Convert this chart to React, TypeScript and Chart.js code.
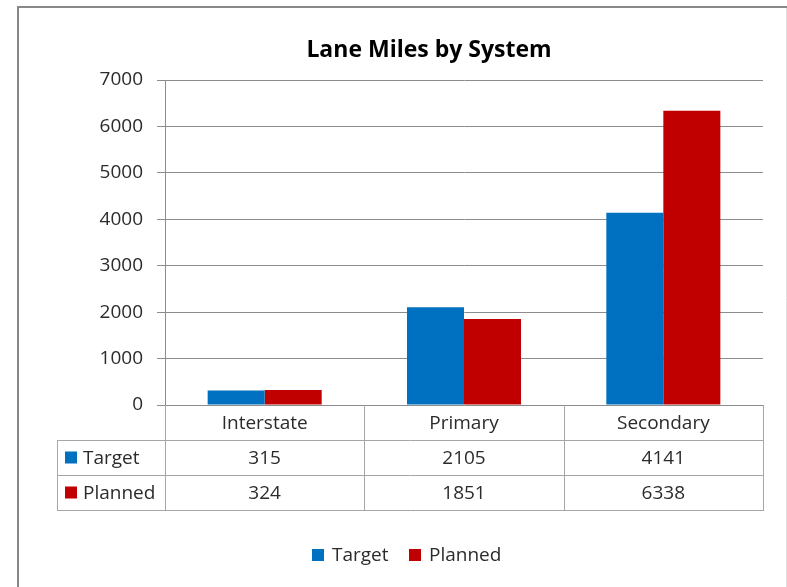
import React, { useEffect, useRef } from "react";
import { Chart, registerables } from "chart.js";

Chart.register(...registerables);

const categories = ["Interstate", "Primary", "Secondary"];
const seriesNames = ["Target", "Planned"];
const targetValues = [315, 2105, 4141];
const plannedValues = [324, 1851, 6338];
const yTicks = [0, 1000, 2000, 3000, 4000, 5000, 6000, 7000];
const titleText = "Lane Miles by System";

const COLORS = ["#0070C0", "#C00000"];
const FONT = "'Open Sans', Lato, sans-serif";
const TEXT = "#2b2b2b";
const GRID = "#8c8c8c";
const TABLE = "#a6a6a6";
const FS = 19;

const W = 787;
const H = 587;

const drawPlugin = {
  id: "excelLook",
  beforeDraw(chart: any) {
    const ctx = chart.ctx;
    ctx.save();
    ctx.fillStyle = "#ffffff";
    ctx.fillRect(0, 0, W, H);
    ctx.strokeStyle = "#888888";
    ctx.lineWidth = 2;
    ctx.beginPath();
    ctx.moveTo(18, H);
    ctx.lineTo(18, 7);
    ctx.lineTo(W, 7);
    ctx.stroke();
    ctx.strokeStyle = "#e0e0e0";
    ctx.lineWidth = 1;
    ctx.beginPath();
    ctx.moveTo(786.5, 8);
    ctx.lineTo(786.5, H);
    ctx.stroke();
    ctx.restore();
  },
  afterDraw(chart: any) {
    const ctx = chart.ctx;
    const area = chart.chartArea;
    const xs = chart.scales.x;
    const n = categories.length;
    const catW = (area.right - area.left) / n;
    const bounds: number[] = [];
    for (let i = 0; i <= n; i++) bounds.push(Math.round(area.left + i * catW));
    const top = Math.round(area.bottom);
    const rowH = 35;
    const tableLeft = 57;
    const r1 = top + rowH;
    const r2 = r1 + rowH;
    const r3 = r2 + rowH;

    ctx.save();
    ctx.strokeStyle = TABLE;
    ctx.lineWidth = 1;
    ctx.beginPath();
    for (const b of bounds) {
      ctx.moveTo(b + 0.5, top);
      ctx.lineTo(b + 0.5, r3 + 0.5);
    }
    ctx.moveTo(tableLeft + 0.5, r1);
    ctx.lineTo(tableLeft + 0.5, r3 + 0.5);
    for (const y of [r1, r2, r3]) {
      ctx.moveTo(tableLeft, y + 0.5);
      ctx.lineTo(bounds[n] + 1, y + 0.5);
    }
    ctx.stroke();

    ctx.fillStyle = TEXT;
    ctx.font = `${FS}px ${FONT}`;
    ctx.textAlign = "center";
    ctx.textBaseline = "middle";
    const series = [targetValues, plannedValues];
    categories.forEach((c, i) => {
      const cx = xs.getPixelForValue(i);
      ctx.fillText(c, cx, top + rowH / 2 + 1);
      series.forEach((s, k) => {
        ctx.fillText(String(s[i]), cx, r1 + rowH * k + rowH / 2 + 1);
      });
    });

    // row headers
    seriesNames.forEach((name, k) => {
      const cy = r1 + rowH * k + rowH / 2;
      ctx.fillStyle = COLORS[k];
      ctx.fillRect(65, cy - 6, 12, 12);
      ctx.fillStyle = TEXT;
      ctx.textAlign = "left";
      ctx.fillText(name, 83, cy + 1);
    });

    // legend
    const legendY = 555;
    const legendX = [312, 409];
    seriesNames.forEach((name, k) => {
      ctx.fillStyle = COLORS[k];
      ctx.fillRect(legendX[k], legendY - 6, 12, 12);
      ctx.fillStyle = TEXT;
      ctx.textAlign = "left";
      ctx.fillText(name, legendX[k] + 20, legendY + 1);
    });

    // title
    ctx.fillStyle = "#000000";
    ctx.font = `bold 23px ${FONT}`;
    ctx.textAlign = "center";
    ctx.fillText(titleText, 429, 50);
    ctx.restore();
  },
};

export default function App() {
  const ref = useRef<HTMLCanvasElement | null>(null);
  useEffect(() => {
    if (!ref.current) return;
    const chart = new Chart(ref.current, {
      type: "bar",
      data: {
        labels: categories,
        datasets: [
          {
            label: seriesNames[0],
            data: targetValues,
            backgroundColor: COLORS[0],
            categoryPercentage: 0.572,
            barPercentage: 1,
          },
          {
            label: seriesNames[1],
            data: plannedValues,
            backgroundColor: COLORS[1],
            categoryPercentage: 0.572,
            barPercentage: 1,
          },
        ],
      },
      options: {
        responsive: false,
        animation: false,
        layout: { padding: { top: 80, right: W - 763, bottom: H - 405, left: 0 } },
        plugins: {
          legend: { display: false },
          title: { display: false },
          tooltip: { enabled: false },
        },
        scales: {
          x: { display: false },
          y: {
            min: yTicks[0],
            max: yTicks[yTicks.length - 1],
            afterFit: (s: any) => {
              s.width = 165;
            },
            afterBuildTicks: (s: any) => {
              s.ticks = yTicks.map((v) => ({ value: v }));
            },
            ticks: {
              color: TEXT,
              font: { family: FONT, size: FS },
              padding: 14,
              callback: (v: any) => String(v),
            },
            grid: { color: GRID, tickLength: 8, lineWidth: 1 },
            border: { color: GRID },
          },
        },
      },
      plugins: [drawPlugin],
    });
    return () => chart.destroy();
  }, []);
  return (
    <div style={{ position: "absolute", left: 0, top: 0, width: W, height: H }}>
      <canvas ref={ref} width={W} height={H} style={{ width: W, height: H }} />
    </div>
  );
}
